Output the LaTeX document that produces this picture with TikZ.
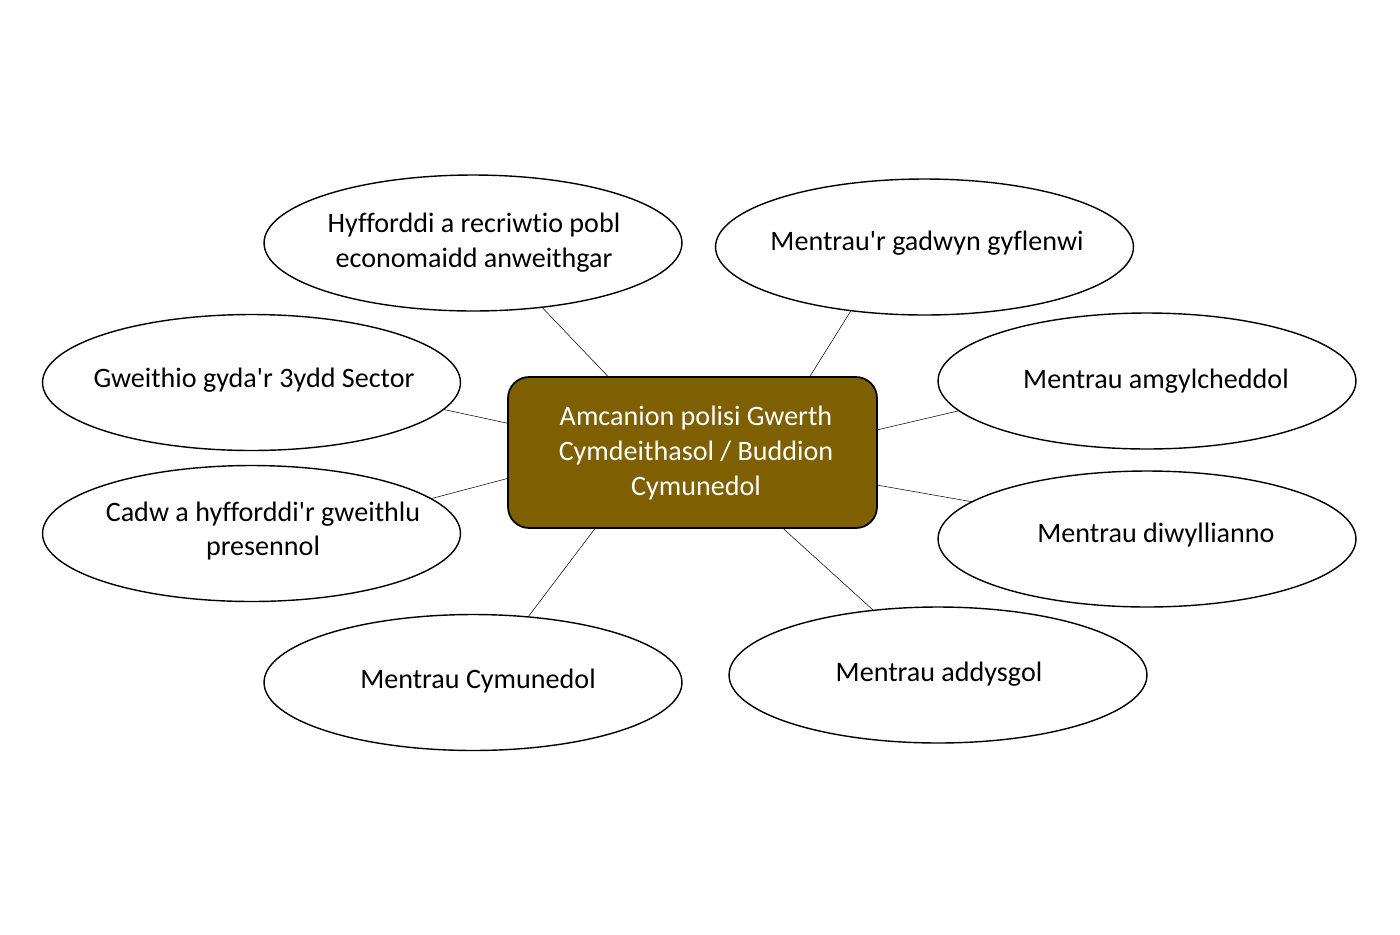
\documentclass[tikz,border=0pt]{standalone}
\usepackage{fontspec}
\setmainfont[Ligatures={NoCommon}]{Carlito}
\usepackage{tikz}
\usetikzlibrary{shapes,positioning}
\definecolor{olivebrown}{HTML}{7F6000}
\tikzset{
  idea/.style={draw=black,line width=0.8pt,ellipse,minimum width=8.36cm,minimum height=2.72cm,inner sep=0pt},
  hub/.style={draw=black,line width=1pt,fill=olivebrown,rounded corners=0.42cm,minimum width=7.38cm,minimum height=3.02cm,inner sep=0pt},
  word/.style={align=center,font=\fontsize{16}{19.8}\selectfont},
  link/.style={draw=black,line width=0.3pt}
}
\begin{document}
\begin{tikzpicture}[x=0.02cm,y=-0.02cm]
      \useasboundingbox (0,0) rectangle (1400,934);
      \node[hub] (hub) at (692.5,452.5) {};
      \node[word,text=white] (hubtext) at (696,453) {Amcanion polisi Gwerth\\Cymdeithasol / Buddion\\Cymunedol};
      \node[idea] (e1) at (473,243) {};
      \node[idea] (e2) at (924.5,247) {};
      \node[idea] (e3) at (251.5,382.5) {};
      \node[idea] (e4) at (1147,381) {};
      \node[idea] (e5) at (251.5,533.5) {};
      \node[idea] (e6) at (1147,539) {};
      \node[idea] (e7) at (473,682.5) {};
      \node[idea] (e8) at (938,675) {};
      \node[word] (t1) at (474,243) {Hyfforddi a recriwtio pobl\\economaidd anweithgar};
      \node[word] (t2) at (927,243) {Mentrau\textquotesingle r gadwyn gyflenwi};
      \node[word] (t3) at (254,380) {Gweithio gyda\textquotesingle r 3ydd Sector};
      \node[word] (t4) at (1156,381) {Mentrau amgylcheddol};
      \node[word] (t5) at (263,531) {Cadw a hyfforddi\textquotesingle r gweithlu\\presennol};
      \node[word] (t6) at (1156,535) {Mentrau diwyllianno};
      \node[word] (t7) at (478,681) {Mentrau Cymunedol};
      \node[word] (t8) at (939,674) {Mentrau addysgol};
      \draw[link] (e1.-43) -- (hub.138.2);
      \draw[link] (e2.221) -- (hub.33.7);
      \draw[link] (e3.-8.1) -- (hub.171.5);
      \draw[link] (e4.189.8) -- (hub.7.3);
      \draw[link] (e5.11.4) -- (hub.188.5);
      \draw[link] (e6.168.6) -- (hub.-10.9);
      \draw[link] (e7.50.4) -- (hub.218.2);
      \draw[link] (e8.135) -- (hub.-40);
    \end{tikzpicture}
\end{document}
